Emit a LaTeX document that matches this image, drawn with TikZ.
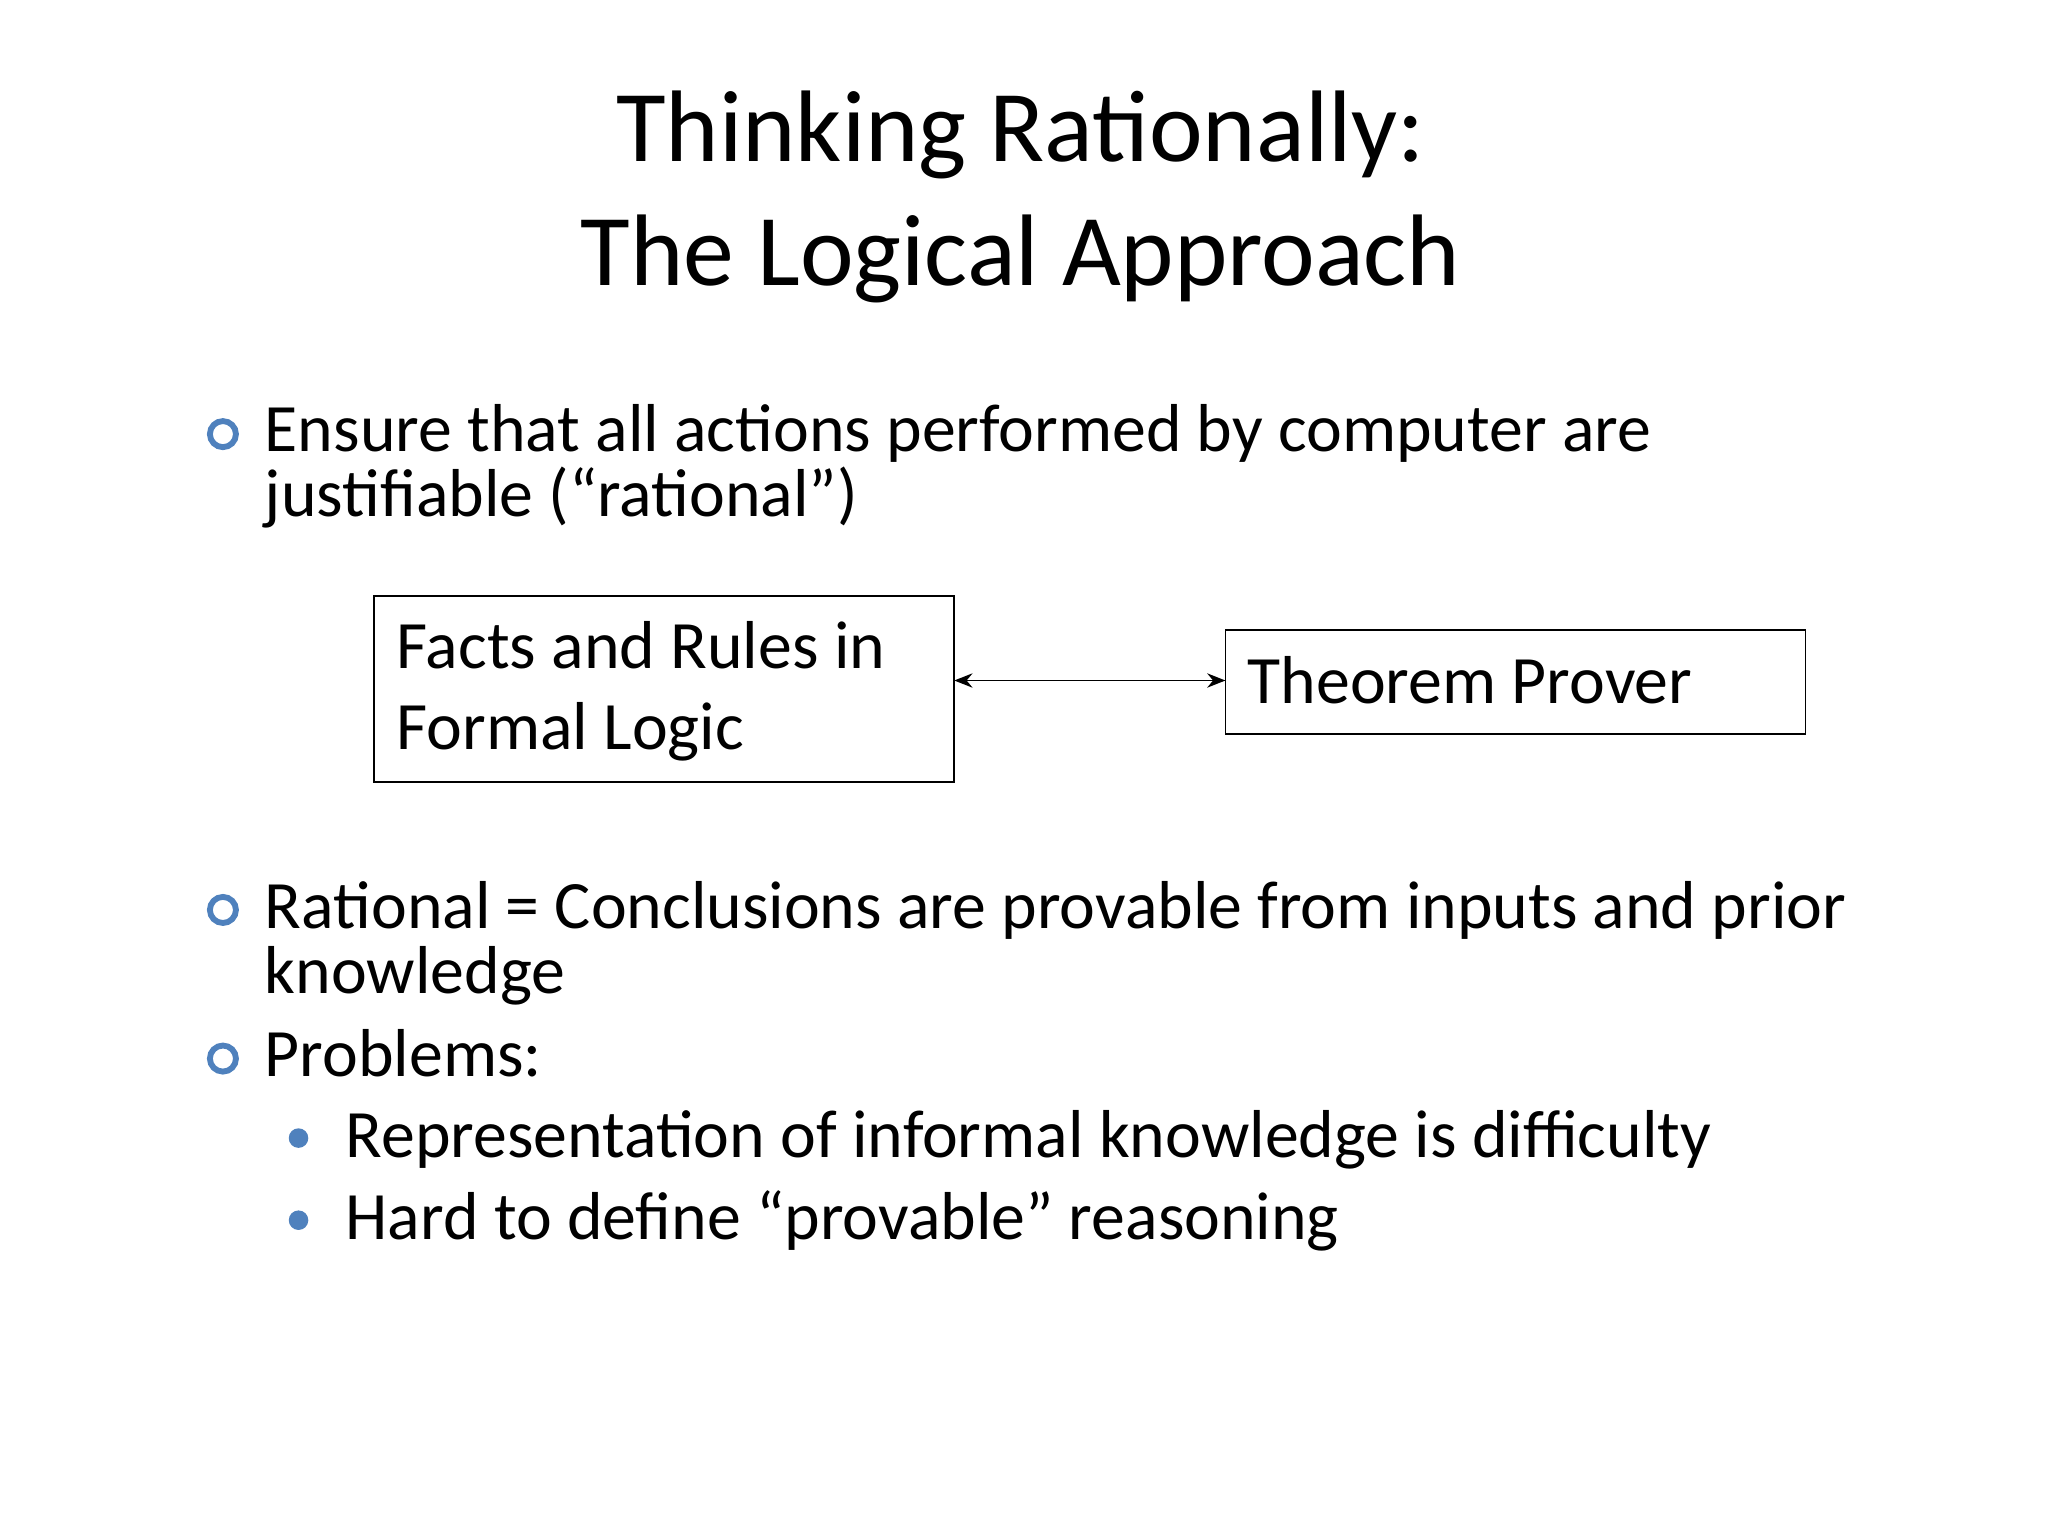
\documentclass[tikz,border=0pt]{standalone}
\usepackage{fontspec}
\setmainfont{Carlito}
\usetikzlibrary{arrows.meta}
\definecolor{bl}{RGB}{79,129,189}
\begin{document}
\begin{tikzpicture}[x=1pt,y=-1pt,
  body/.style={anchor=base west,inner sep=0pt,font=\fontsize{52}{60}\selectfont},
  ttl/.style={anchor=base,inner sep=0pt,font=\fontsize{78}{90}\selectfont},
  hollow/.style={circle,draw=bl,line width=4.5pt,minimum size=20pt,inner sep=0pt},
  dot/.style={circle,fill=bl,minimum size=15pt,inner sep=0pt},
  frame/.style={draw,line width=1.3pt}]
\useasboundingbox (0,0) rectangle (1571,1178);
\node[ttl] (title1) at (783,124) {Thinking Rationally:};
\node[ttl] (title2) at (783,219) {The Logical Approach};
\node[hollow] (b1) at (171,333) {};
\node[body] (t1a) at (203,346) {Ensure that all actions performed by computer are};
\node[body] (t1b) at (203,396) {justifiable (“rational”)};
\draw[frame] (287,457) rectangle (732,600);
\coordinate (l1) at (732,522);
\node[body] (f1a) at (304,513) {Facts and Rules in};
\node[body] (f1b) at (304,575) {Formal Logic};
\draw[frame] (940,483) rectangle (1385,563);
\coordinate (r1) at (940,522);
\node[body] (f2) at (957,540) {Theorem Prover};
\draw[{Stealth[length=14pt,width=11pt]}-{Stealth[length=14pt,width=11pt]},line width=1.4pt] (l1) -- (r1);
\node[hollow] (b2) at (171,698) {};
\node[body] (t2a) at (203,712) {Rational = Conclusions are provable from inputs and prior};
\node[body] (t2b) at (203,762) {knowledge};
\node[hollow] (b3) at (171,812) {};
\node[body] (t3) at (203,826) {Problems:};
\node[dot] (d1) at (229,873) {};
\node[body] (t4) at (265,888) {Representation of informal knowledge is difficulty};
\node[dot] (d2) at (229,936) {};
\node[body] (t5) at (265,951) {Hard to define “provable” reasoning};
\end{tikzpicture}
\end{document}
